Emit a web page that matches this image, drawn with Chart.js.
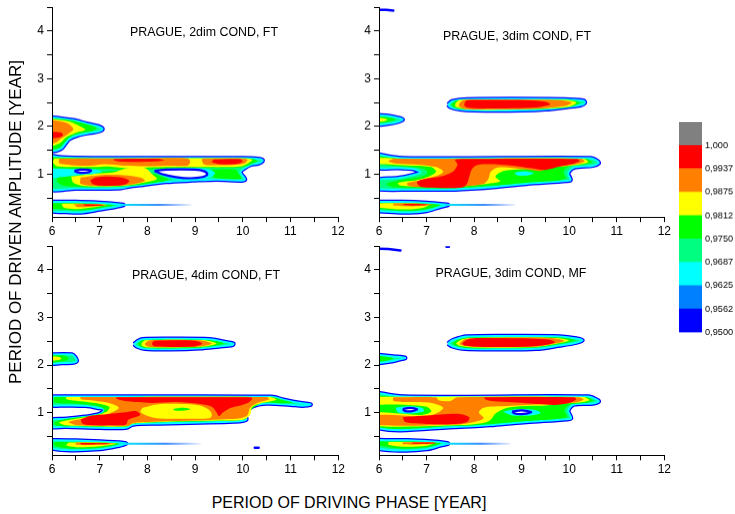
<!DOCTYPE html>
<html><head><meta charset="utf-8">
<script src="https://cdn.jsdelivr.net/npm/chart.js@4.4.1/dist/chart.umd.min.js"></script>
<style>
html,body{margin:0;padding:0;background:#fff;}
body{width:735px;height:514px;position:relative;overflow:hidden;font-family:"Liberation Sans",Arial,sans-serif;}
.box{position:absolute;}
.t{position:absolute;transform:translate(-50%,-50%);white-space:nowrap;color:#000;}
</style></head><body>
<div class="box" id="b0"><canvas id="c0"></canvas></div>
<div class="box" id="b1"><canvas id="c1"></canvas></div>
<div class="box" id="b2"><canvas id="c2"></canvas></div>
<div class="box" id="b3"><canvas id="c3"></canvas></div>
<div class="box" id="b4"><canvas id="c4"></canvas></div>
<div class="t" id="t0"></div><div class="t" id="t1"></div><div class="t" id="t2"></div><div class="t" id="t3"></div>
<div class="t" id="ytitle" style="font-size:17px;transform:translate(-50%,-50%) rotate(-90deg);">PERIOD OF DRIVEN AMPLITUDE [YEAR]</div>
<div class="t" id="xtitle" style="font-size:16px;">PERIOD OF DRIVING PHASE [YEAR]</div>
<script>
// ---------- axes ----------
const X_TICKS = [6,6.5,7,7.5,8,8.5,9,9.5,10,10.5,11,11.5,12];
const Y_TICKS = [0.5,1,1.5,2,2.5,3,3.5,4,4.5];
const TITLES = ['PRAGUE, 2dim COND, FT','PRAGUE, 3dim COND, FT','PRAGUE, 4dim COND, FT','PRAGUE, 3dim COND, MF'];

// ---------- colour scale ----------
const LEVELS = [0.95,0.95625,0.9625,0.96875,0.975,0.98125,0.9875,0.99375,1.0,1.00625];
const LEVEL_LABELS = ['0,9500','0,9562','0,9625','0,9687','0,9750','0,9812','0,9875','0,9937','1,000'];

// ---------- panel 1: 2dim FT ----------
const TL_OUTER = [
 [[5.9,2.2],[6.17,2.17],[6.45,2.13],[6.73,2.06],[6.95,2.01],[7.06,1.95],[6.98,1.9],[6.8,1.87],[6.55,1.82],[6.36,1.74],[6.27,1.63],[6.2,1.54],[6.1,1.5],[5.9,1.5]],
 [[5.9,1.4],[6.2,1.35],[7,1.335],[8,1.335],[9,1.335],[10,1.335],[10.33,1.32],[10.42,1.29],[10.33,1.23],[10.17,1.2],[10.03,1.12],[9.95,1.04],[10.02,0.94],[10.05,0.89],[9.98,0.87],[9.45,0.89],[8.96,0.87],[8.4,0.84],[7.91,0.78],[7.6,0.74],[7.45,0.71],[7,0.7],[6.5,0.7],[5.9,0.71]],
 [[5.9,0.42],[6.5,0.42],[7.0,0.4],[7.4,0.37],[7.5,0.355],[7.35,0.32],[7.0,0.26],[6.6,0.2],[6.3,0.21],[5.9,0.24]]
];
const TL_GREEN = [
 [[5.9,2.18],[6.4,2.13],[6.75,2.04],[6.93,1.97],[6.85,1.91],[6.6,1.86],[6.38,1.78],[6.25,1.65],[6.15,1.55],[5.9,1.53]],
 [[5.9,1.36],[7,1.33],[10,1.33],[10.22,1.32],[10.3,1.28],[10.2,1.22],[10.02,1.15],[9.6,1.13],[9.2,1.13],[8.6,1.13],[8.0,1.1],[7.6,1.08],[7.2,1.11],[6.9,1.11],[6.45,1.11],[6.2,1.12],[5.9,1.13]],
 [[6.15,0.99],[6.5,0.97],[6.9,1.03],[7.3,1.07],[7.7,1.06],[8.1,1.02],[8.3,0.95],[8.45,0.88],[8.0,0.8],[7.6,0.75],[7.1,0.73],[6.6,0.73],[6.25,0.76],[6.1,0.85]],
 [[9.35,1.1],[9.85,1.1],[9.92,1.0],[9.97,0.91],[9.7,0.9],[9.4,0.93]],
 [[5.9,0.39],[6.6,0.39],[7.1,0.37],[7.3,0.35],[7.0,0.29],[6.6,0.24],[6.2,0.26],[5.9,0.3]]
];
const TL_YELLOW = [
 [[5.9,2.17],[6.35,2.11],[6.6,2.0],[6.7,1.93],[6.5,1.87],[6.3,1.78],[6.15,1.64],[5.9,1.6]],
 [[6.05,1.33],[7,1.33],[10.05,1.33],[10.2,1.3],[10.12,1.23],[9.98,1.17],[9.6,1.15],[9.2,1.15],[8.5,1.15],[8.0,1.14],[7.6,1.12],[7.2,1.16],[6.9,1.15],[6.5,1.15],[6.1,1.17],[6.02,1.25]],
 [[6.4,0.95],[6.8,1.0],[7.3,1.04],[7.55,1.12],[7.95,1.13],[8.1,1.0],[8.2,0.9],[7.9,0.82],[7.6,0.77],[7.1,0.745],[6.7,0.75],[6.45,0.82]],
 [[6.2,0.38],[6.7,0.38],[7.15,0.36],[6.9,0.31],[6.5,0.27],[6.25,0.3]]
];
const TL_ORANGE = [
 [[5.9,2.15],[6.3,2.08],[6.45,1.95],[6.35,1.85],[6.2,1.75],[6.08,1.66],[5.9,1.65]],
 [[6.15,1.325],[7,1.33],[8,1.33],[8.85,1.33],[8.9,1.26],[8.85,1.18],[8.5,1.18],[8.0,1.17],[7.5,1.18],[7.1,1.21],[6.8,1.18],[6.4,1.19],[6.15,1.23]],
 [[9.15,1.33],[9.9,1.33],[10.1,1.31],[10.05,1.23],[9.9,1.2],[9.4,1.19],[9.2,1.2],[9.15,1.27]],
 [[6.6,0.93],[7.0,0.98],[7.5,0.98],[7.85,0.93],[7.95,0.86],[7.7,0.79],[7.3,0.755],[6.9,0.755],[6.6,0.8]],
 [[6.45,0.37],[6.8,0.375],[7.15,0.355],[6.9,0.325],[6.55,0.31]]
];
const TL_RED = [
 [[5.9,1.89],[6.2,1.87],[6.23,1.81],[6.1,1.76],[5.9,1.76]],
 [[7.3,1.32],[8.25,1.32],[8.35,1.29],[8.0,1.26],[7.5,1.26],[7.3,1.29]],
 [[9.4,1.31],[9.95,1.315],[10.0,1.26],[9.85,1.21],[9.5,1.21],[9.35,1.26]],
 [[6.8,0.87],[6.92,0.93],[7.2,0.95],[7.5,0.92],[7.62,0.86],[7.55,0.79],[7.35,0.76],[7.0,0.76],[6.85,0.8]],
 [[6.65,0.37],[6.95,0.365],[7.1,0.35],[6.9,0.335],[6.7,0.34]]
];
const TL_DEPCYAN = [
 [[5.9,1.12],[6.35,1.11],[6.9,1.1],[7.05,1.05],[6.9,1.01],[6.5,0.98],[6.2,0.94],[5.9,0.92]],
 [[8.15,1.1],[8.5,1.12],[9.2,1.12],[9.42,1.03],[9.3,0.92],[8.9,0.88],[8.55,0.9],[8.3,0.98],[8.15,1.05]]
];
const TL_HOLES = [
 [[6.47,1.07],[6.6,1.095],[6.82,1.08],[6.75,1.035],[6.55,1.035]],
 [[8.15,1.07],[8.4,1.095],[9.0,1.095],[9.2,1.06],[9.26,1.0],[9.16,0.94],[8.9,0.915],[8.6,0.94],[8.32,1.0]]
];
const TL_TAILS = [[[7.45,0.355],[8.9,0.355]]];

// ---------- panel 2: 3dim FT ----------
const TR_OUTER = [
 [[7.45,2.46],[7.55,2.53],[7.85,2.57],[9.9,2.57],[10.3,2.54],[10.33,2.5],[10.25,2.45],[9.95,2.41],[9.5,2.36],[9,2.34],[8,2.34],[7.7,2.36],[7.5,2.41]],
 [[5.9,2.24],[6.2,2.22],[6.4,2.18],[6.5,2.145],[6.4,2.1],[6.2,2.06],[5.9,2.05]],
 [[5.9,1.43],[6.5,1.335],[10.45,1.335],[10.6,1.27],[10.62,1.23],[10.5,1.18],[10.1,1.14],[9.98,1.02],[10.03,0.88],[9.95,0.86],[9.1,0.8],[8.4,0.73],[7.6,0.68],[6.7,0.68],[5.9,0.7],[5.9,0.87],[6.4,0.92],[6.7,0.98],[6.87,1.04],[6.72,1.11],[6.4,1.13],[5.9,1.15]],
 [[5.9,0.42],[6.5,0.42],[7.0,0.4],[7.35,0.37],[7.45,0.355],[7.3,0.32],[7.0,0.23],[6.65,0.2],[6.3,0.21],[5.9,0.25]]
];
const TR_GREEN = [
 [[7.52,2.47],[7.65,2.55],[9.95,2.56],[10.22,2.5],[10.05,2.42],[9.5,2.37],[7.8,2.36],[7.55,2.41]],
 [[5.9,2.21],[6.2,2.19],[6.35,2.15],[6.2,2.1],[5.9,2.08]],
 [[5.9,1.39],[6.5,1.325],[10.35,1.325],[10.48,1.25],[10.32,1.2],[10.0,1.16],[9.88,1.05],[9.92,0.9],[9.2,0.83],[8.4,0.76],[7.6,0.71],[6.7,0.71],[6.3,0.73],[6.15,0.8],[6.45,0.88],[6.8,0.93],[7.0,1.0],[7.0,1.08],[6.8,1.14],[6.4,1.17],[6.1,1.2],[5.9,1.25]],
 [[5.9,0.4],[6.5,0.4],[7.0,0.385],[7.3,0.355],[7.0,0.27],[6.6,0.23],[6.2,0.25],[5.9,0.3]]
];
const TR_YELLOW = [
 [[7.6,2.48],[7.7,2.555],[9.9,2.555],[10.15,2.5],[10.0,2.42],[9.5,2.38],[8.0,2.35],[7.62,2.41]],
 [[5.9,2.19],[6.12,2.17],[6.18,2.14],[6.1,2.11],[5.9,2.11]],
 [[5.9,1.35],[6.5,1.325],[10.3,1.325],[10.4,1.25],[10.2,1.2],[9.9,1.17],[9.6,1.15],[9.3,1.12],[8.9,1.1],[8.6,1.06],[8.45,0.95],[8.55,0.85],[8.2,0.79],[7.6,0.74],[6.8,0.74],[6.45,0.76],[6.4,0.82],[6.8,0.88],[7.05,0.95],[7.2,1.05],[7.1,1.15],[6.7,1.18],[6.3,1.2],[5.9,1.23]],
 [[5.9,0.39],[6.5,0.39],[7.05,0.37],[6.95,0.3],[6.6,0.26],[6.2,0.28],[5.9,0.32]]
];
const TR_ORANGE = [
 [[7.7,2.5],[7.8,2.56],[9,2.56],[9.8,2.55],[10.05,2.5],[9.9,2.43],[9.4,2.38],[8.5,2.36],[7.8,2.37],[7.68,2.43]],
 [[6.3,1.325],[7.5,1.325],[10.25,1.325],[10.32,1.27],[10.15,1.21],[9.9,1.18],[9.6,1.13],[9.4,1.07],[9.2,1.09],[8.8,1.13],[8.5,1.14],[8.35,1.05],[8.3,0.9],[8.2,0.8],[7.9,0.755],[7.5,0.73],[6.8,0.73],[6.6,0.77],[6.6,0.82],[6.9,0.88],[7.2,0.96],[7.35,1.05],[7.2,1.15],[6.8,1.2],[6.4,1.22],[6.2,1.27]],
 [[6.3,0.385],[6.8,0.385],[7.15,0.36],[6.85,0.33],[6.5,0.33],[6.3,0.35]]
];
const TR_RED = [
 [[7.8,2.5],[7.85,2.55],[8.2,2.555],[9.0,2.555],[9.5,2.52],[9.6,2.46],[9.3,2.4],[8.5,2.38],[7.9,2.39],[7.8,2.43]],
 [[7.72,1.32],[10.15,1.32],[10.22,1.28],[10.05,1.21],[9.8,1.16],[9.5,1.09],[9.25,1.12],[8.9,1.17],[8.55,1.2],[8.3,1.21],[8.05,1.19],[7.95,1.1],[7.9,0.95],[7.85,0.8],[7.75,0.72],[7.0,0.72],[6.85,0.75],[6.8,0.84],[6.95,0.9],[7.3,0.95],[7.55,1.05],[7.65,1.2],[7.6,1.3]],
 [[6.5,0.38],[6.9,0.375],[7.05,0.36],[6.85,0.345],[6.55,0.35]]
];
const TR_DEPCYAN = [[[8.85,1.03],[9.05,1.06],[9.25,1.02],[9.1,0.97],[8.9,0.98]]];
const TR_TAILS = [[[7.4,0.355],[8.85,0.355]]];
const TR_TRACES = [[[5.9,4.45],[6.15,4.445],[6.3,4.43]]];

// ---------- panel 3: 4dim FT ----------
const BL_OUTER = [
 [[7.72,2.44],[7.8,2.5],[7.9,2.54],[8.5,2.55],[9.3,2.54],[9.6,2.49],[9.8,2.45],[9.78,2.42],[9.5,2.39],[9.1,2.35],[8.5,2.33],[7.95,2.34],[7.78,2.39]],
 [[5.9,2.22],[6.42,2.22],[6.48,2.17],[6.52,2.09],[6.45,2.05],[6.2,2.04],[5.9,2.04]],
 [[5.9,1.335],[7,1.335],[10.6,1.33],[10.85,1.27],[11.2,1.2],[11.42,1.17],[11.25,1.145],[11.0,1.165],[10.5,1.19],[10.2,1.13],[10.05,0.98],[10.07,0.85],[9.8,0.81],[9.1,0.79],[8.26,0.77],[7.7,0.75],[7.55,0.68],[7.0,0.68],[6.3,0.7],[5.9,0.7],[5.9,0.84],[6.3,0.87],[6.7,0.91],[7.0,0.97],[7.1,1.06],[6.95,1.1],[6.7,1.14],[6.3,1.15],[5.9,1.16]],
 [[5.9,0.42],[6.5,0.41],[7.0,0.39],[7.5,0.36],[7.55,0.345],[7.4,0.3],[7.0,0.23],[6.3,0.21],[5.9,0.28]]
];
const BL_GREEN = [
 [[7.8,2.45],[7.9,2.52],[8.5,2.535],[9.3,2.52],[9.6,2.46],[9.4,2.4],[9.0,2.36],[8.0,2.355],[7.83,2.4]],
 [[5.9,2.2],[6.25,2.2],[6.35,2.14],[6.25,2.08],[5.9,2.07]],
 [[6.05,1.325],[10.6,1.325],[10.85,1.26],[11.05,1.21],[10.85,1.19],[10.45,1.21],[10.25,1.12],[10.1,0.97],[10.05,0.86],[9.5,0.82],[8.5,0.8],[7.7,0.765],[7.55,0.7],[6.5,0.71],[6.1,0.72],[6.05,0.8],[6.4,0.88],[6.8,0.93],[7.05,0.99],[7.1,1.07],[6.9,1.15],[6.4,1.19],[6.05,1.21]],
 [[6.05,0.38],[6.5,0.38],[7.1,0.37],[7.4,0.345],[7.0,0.26],[6.4,0.24],[6.05,0.3]]
];
const BL_YELLOW = [
 [[7.88,2.46],[7.95,2.52],[9.2,2.52],[9.45,2.45],[9.2,2.39],[8.0,2.37],[7.88,2.41]],
 [[5.9,2.18],[6.15,2.17],[6.2,2.13],[6.1,2.1],[5.9,2.1]],
 [[6.3,1.325],[10.55,1.325],[10.7,1.27],[10.4,1.2],[10.2,1.12],[10.15,0.95],[10.0,0.85],[9.5,0.83],[8.5,0.81],[7.7,0.77],[7.55,0.71],[6.8,0.71],[6.3,0.73],[6.15,0.79],[6.5,0.87],[6.9,0.93],[7.15,1.02],[7.2,1.12],[6.9,1.2],[6.5,1.25],[6.3,1.28]],
 [[6.35,0.37],[7.1,0.365],[7.35,0.345],[7.0,0.29],[6.5,0.27],[6.3,0.31]]
];
const BL_ORANGE = [
 [[7.95,2.46],[8.05,2.52],[9.1,2.52],[9.35,2.45],[9.1,2.39],[8.05,2.38],[7.95,2.42]],
 [[6.6,1.325],[10.5,1.325],[10.55,1.28],[10.3,1.2],[10.15,1.1],[10.1,0.95],[9.95,0.88],[9.6,0.86],[9.2,0.84],[8.5,0.82],[8.0,0.8],[7.7,0.78],[7.6,0.72],[7.0,0.72],[6.5,0.74],[6.35,0.8],[6.7,0.88],[7.2,0.98],[7.4,1.1],[7.2,1.2],[6.9,1.25],[6.6,1.28]],
 [[6.5,0.37],[7.15,0.36],[7.3,0.345],[7.0,0.32],[6.5,0.32]]
];
const BL_RED = [
 [[8.1,2.47],[8.15,2.51],[9.0,2.51],[9.15,2.45],[9.0,2.39],[8.15,2.39],[8.1,2.43]],
 [[7.35,1.32],[10.15,1.32],[10.2,1.29],[10.1,1.2],[9.95,1.15],[9.75,1.1],[9.58,1.0],[9.5,0.92],[9.45,1.0],[9.35,1.12],[9.1,1.18],[8.6,1.22],[8.1,1.2],[7.8,1.22],[7.5,1.25],[7.35,1.29]],
 [[6.6,0.85],[6.8,0.93],[7.2,0.97],[7.5,1.0],[7.75,1.03],[7.85,0.95],[7.6,0.85],[7.55,0.75],[7.3,0.73],[6.9,0.73],[6.65,0.76]],
 [[6.6,0.36],[7.15,0.355],[7.2,0.345],[7.0,0.33],[6.6,0.335]]
];
const BL_DEPYELLOW = [[[7.9,1.1],[8.2,1.17],[8.7,1.18],[9.1,1.15],[9.3,1.05],[9.35,0.95],[9.3,0.88],[8.8,0.87],[8.2,0.88],[7.95,0.95],[7.85,1.02]]];
const BL_DEPGREEN = [[[8.55,1.08],[8.75,1.1],[8.9,1.07],[8.75,1.04],[8.55,1.05]]];
const BL_TAILS = [[[7.5,0.345],[9.1,0.345]]];
const BL_TRACES = [[[10.25,0.26],[10.33,0.26]]];

// ---------- panel 4: 3dim MF ----------
const BR_OUTER = [
 [[7.45,2.45],[7.55,2.52],[7.85,2.6],[9.0,2.61],[9.8,2.6],[10.15,2.56],[10.28,2.52],[10.15,2.47],[9.8,2.41],[9.3,2.34],[8.5,2.33],[7.8,2.34],[7.55,2.39]],
 [[5.9,2.22],[6.3,2.18],[6.55,2.15],[6.4,2.11],[6.2,2.07],[5.9,2.05]],
 [[5.9,1.43],[6.5,1.335],[10.4,1.335],[10.6,1.26],[10.62,1.23],[10.5,1.19],[10.1,1.17],[9.98,1.04],[10.04,0.88],[9.95,0.86],[9.1,0.8],[8.4,0.74],[7.7,0.7],[5.9,0.7]],
 [[5.9,0.42],[6.6,0.415],[7.1,0.39],[7.4,0.36],[7.45,0.345],[7.3,0.31],[7.0,0.23],[6.5,0.2],[5.9,0.26]]
];
const BR_GREEN = [
 [[7.55,2.46],[7.65,2.53],[7.9,2.58],[9.8,2.58],[10.12,2.52],[9.8,2.44],[9.3,2.37],[8.5,2.35],[7.8,2.36],[7.6,2.41]],
 [[5.9,2.2],[6.2,2.17],[6.3,2.13],[6.15,2.09],[5.9,2.08]],
 [[5.9,1.36],[6.5,1.325],[10.35,1.325],[10.5,1.25],[10.3,1.2],[10.0,1.16],[9.9,1.04],[9.95,0.9],[9.1,0.82],[8.4,0.76],[7.7,0.72],[5.9,0.72]],
 [[5.9,0.39],[6.6,0.39],[7.1,0.375],[7.3,0.35],[7.0,0.27],[6.5,0.24],[6.05,0.3]]
];
const BR_YELLOW = [
 [[7.62,2.46],[7.75,2.54],[8.0,2.57],[9.7,2.57],[10.0,2.52],[9.75,2.45],[9.3,2.38],[8.0,2.37],[7.68,2.41]],
 [[5.9,1.33],[10.3,1.325],[10.42,1.26],[10.2,1.21],[9.9,1.19],[9.5,1.15],[9.1,1.14],[8.7,1.1],[8.45,0.98],[8.35,0.85],[8.2,0.78],[7.7,0.735],[5.9,0.73],[5.9,0.98],[6.4,0.98],[6.9,0.95],[7.1,1.02],[7.0,1.12],[6.6,1.16],[6.2,1.17],[5.9,1.18]],
 [[6.2,0.38],[6.7,0.38],[7.15,0.365],[7.0,0.3],[6.5,0.28],[6.2,0.32]]
];
const BR_ORANGE = [
 [[7.7,2.46],[7.8,2.54],[8.1,2.57],[9.6,2.57],[9.9,2.51],[9.7,2.45],[9.3,2.39],[8.0,2.38],[7.72,2.42]],
 [[6.3,1.32],[7.2,1.32],[7.25,1.26],[7.5,1.24],[7.65,1.32],[10.2,1.32],[10.3,1.27],[10.1,1.21],[9.8,1.2],[9.3,1.17],[8.9,1.15],[8.5,1.13],[8.2,1.1],[8.1,1.0],[8.2,0.88],[8.0,0.8],[7.7,0.75],[5.9,0.745],[5.9,0.93],[6.5,0.94],[6.9,0.91],[7.2,0.98],[7.35,1.1],[7.1,1.2],[6.6,1.22],[6.3,1.25]],
 [[6.5,0.375],[7.0,0.375],[7.2,0.36],[6.95,0.33],[6.5,0.33]]
];
const BR_RED = [
 [[7.75,2.46],[7.9,2.55],[8.2,2.57],[9.2,2.56],[9.6,2.53],[9.7,2.48],[9.55,2.43],[9.2,2.39],[8.2,2.38],[7.8,2.41]],
 [[8.2,1.32],[10.1,1.32],[10.15,1.28],[10.0,1.2],[9.7,1.16],[9.3,1.18],[8.9,1.21],[8.5,1.23],[8.25,1.27]],
 [[6.5,0.9],[6.9,0.93],[7.3,0.96],[7.7,0.97],[7.9,0.9],[7.85,0.8],[7.6,0.76],[7.0,0.76],[6.55,0.8]],
 [[6.7,0.37],[7.1,0.37],[7.2,0.355],[7.0,0.345],[6.7,0.35]]
];
const BR_DEPCYAN = [
 [[6.35,1.1],[6.6,1.13],[6.9,1.1],[6.95,1.03],[6.7,0.98],[6.4,1.0]],
 [[8.6,1.02],[8.9,1.07],[9.3,1.05],[9.4,0.99],[9.2,0.94],[8.8,0.94]]
];
const BR_HOLES = [
 [[6.5,1.07],[6.65,1.1],[6.8,1.07],[6.7,1.03],[6.55,1.03]],
 [[8.8,1.02],[9.0,1.045],[9.2,1.01],[9.05,0.97],[8.85,0.98]]
];
const BR_TAILS = [[[7.4,0.345],[8.75,0.345]]];
const BR_TRACES = [[[5.9,4.45],[6.2,4.44],[6.45,4.41]],[[7.42,4.49],[7.47,4.49]]];

// ---------- styling ----------
const C = {blue:'#0000ff', azure:'#0080ff', cyan:'#00ffff', spring:'#00ff80', green:'#00ff00',
           yellow:'#ffff00', orange:'#ff8000', red:'#ff0000', gray:'#808080'};
const FONT = "'Liberation Sans', Arial, sans-serif";

const PANELS = [
 {area:[52,7.3,338,216.5], tpos:[204,32], d:{outer:TL_OUTER, green:TL_GREEN, yellow:TL_YELLOW, orange:TL_ORANGE, red:TL_RED, depCyan:TL_DEPCYAN, holes:TL_HOLES, tails:TL_TAILS}},
 {area:[378.7,7.3,664,216.5], tpos:[517,35.5], d:{outer:TR_OUTER, green:TR_GREEN, yellow:TR_YELLOW, orange:TR_ORANGE, red:TR_RED, depCyan:TR_DEPCYAN, tails:TR_TAILS, traces:TR_TRACES}},
 {area:[52,245.5,338.3,454.8], tpos:[206,275], d:{outer:BL_OUTER, green:BL_GREEN, yellow:BL_YELLOW, orange:BL_ORANGE, red:BL_RED, depYellow:BL_DEPYELLOW, depGreen:BL_DEPGREEN, tails:BL_TAILS, traces:BL_TRACES}},
 {area:[378.7,245.5,664,454.8], tpos:[511,272.7], d:{outer:BR_OUTER, green:BR_GREEN, yellow:BR_YELLOW, orange:BR_ORANGE, red:BR_RED, depCyan:BR_DEPCYAN, holes:BR_HOLES, tails:BR_TAILS, traces:BR_TRACES}}
];

const BASE = {pointRadius:0, pointHoverRadius:0, tension:0.3, clip:0, borderJoinStyle:'round'};
function closed(p){ const a = p.map(q=>({x:q[0], y:q[1]})); a.push({x:p[0][0], y:p[0][1]}); return a; }
function area(p, color, stroke, sw){
  return Object.assign({}, BASE, {data:closed(p), fill:'shape', backgroundColor:color,
    borderColor: stroke || 'rgba(0,0,0,0)', borderWidth: sw || 0});
}
function edge(p){ return Object.assign({}, BASE, {data:closed(p), fill:false, borderColor:C.blue, borderWidth:4.5}); }
function tail(p){
  return Object.assign({}, BASE, {tension:0, data:p.map(q=>({x:q[0], y:q[1]})), fill:false, borderWidth:2, borderCapStyle:'round',
    borderColor: (ctx) => {
      const ch = ctx.chart; if (!ch.chartArea || !ch.scales.x) return C.cyan;
      const x0 = ch.scales.x.getPixelForValue(p[0][0]), x1 = ch.scales.x.getPixelForValue(p[p.length-1][0]);
      const g = ch.ctx.createLinearGradient(x0, 0, x1, 0);
      g.addColorStop(0, '#00e8ff'); g.addColorStop(0.55, '#3a8cff'); g.addColorStop(1, 'rgba(60,120,255,0.12)');
      return g;
    }});
}
function trace(p){ return Object.assign({}, BASE, {tension:0, data:p.map(q=>({x:q[0], y:q[1]})), fill:false, borderColor:C.blue, borderWidth:2.5, borderCapStyle:'round'}); }

function buildDatasets(d){
  const ds = [];
  (d.outer||[]).forEach(p => ds.push(edge(p)));
  (d.outer||[]).forEach(p => ds.push(area(p, C.spring, C.cyan, 2)));
  [[d.green,C.green],[d.yellow,C.yellow],[d.orange,C.orange],[d.red,C.red],
   [d.depYellow,C.yellow],[d.depGreen,C.green],[d.depCyan,C.cyan]].forEach(([list,c]) =>
     (list||[]).forEach(p => ds.push(area(p, c))));
  (d.holes||[]).forEach(p => ds.push(area(p, '#ffffff', C.blue, 2.2)));
  (d.tails||[]).forEach(p => ds.push(tail(p)));
  (d.traces||[]).forEach(p => ds.push(trace(p)));
  ds.forEach((x,i) => { x.order = ds.length - i; });
  return ds;
}

const YW = 40, XH = 24, PT = 10, PR = 14;
PANELS.forEach((P, k) => {
  const [L,T,R,B] = P.area;
  const box = document.getElementById('b'+k);
  box.style.left = (L-YW)+'px'; box.style.top = (T-PT)+'px';
  box.style.width = (R-L+YW+PR)+'px'; box.style.height = (B-T+PT+XH)+'px';
  const t = document.getElementById('t'+k);
  t.textContent = TITLES[k]; t.style.left = P.tpos[0]+'px'; t.style.top = P.tpos[1]+'px'; t.style.fontSize = '12.4px';
  new Chart(document.getElementById('c'+k), {
    type:'line',
    data:{datasets: buildDatasets(P.d)},
    options:{
      animation:false, responsive:true, maintainAspectRatio:false, devicePixelRatio:1, events:[],
      layout:{padding:{top:PT, right:PR, left:0, bottom:0}},
      plugins:{legend:{display:false}, tooltip:{enabled:false}},
      scales:{
        x:{type:'linear', min:6, max:12,
           afterBuildTicks: s => { s.ticks = X_TICKS.map(v => ({value:v})); },
           afterFit: s => { s.height = XH; },
           ticks:{callback: v => Number.isInteger(v) ? String(v) : '', autoSkip:false, maxRotation:0, padding:2,
                  color:'#000', font:{family:FONT, size:12}},
           grid:{drawOnChartArea:false, drawTicks:true, tickLength:5, tickColor:'#000', tickWidth:1},
           border:{display:true, color:'#000', width:1, z:1}},
        y:{type:'linear', min:0.1, max:4.5,
           afterBuildTicks: s => { s.ticks = Y_TICKS.map(v => ({value:v})); },
           afterFit: s => { s.width = YW; },
           ticks:{callback: v => Number.isInteger(v) ? String(v) : '', autoSkip:false, padding:3,
                  color:'#000', font:{family:FONT, size:12}},
           grid:{drawOnChartArea:false, drawTicks:true, tickLength:5, tickColor:'#000', tickWidth:1},
           border:{display:true, color:'#000', width:1, z:1}}
      }
    }
  });
});

// ---------- colour bar ----------
(function(){
  const L = 679, T = 122.3, W = 23, H = 209.4, AW = 33;
  const box = document.getElementById('b4');
  box.style.left = L+'px'; box.style.top = (T-10)+'px'; box.style.width = (W+AW)+'px'; box.style.height = (H+20)+'px';
  const cols = [C.blue, C.azure, C.cyan, C.spring, C.green, C.yellow, C.orange, C.red, C.gray];
  new Chart(document.getElementById('c4'), {
    type:'bar',
    data:{labels:[''], datasets: cols.map((c,i) => ({data:[[LEVELS[i], LEVELS[i+1]]], backgroundColor:c, borderWidth:0,
          barPercentage:1, categoryPercentage:1, grouped:false}))},
    options:{
      animation:false, responsive:true, maintainAspectRatio:false, devicePixelRatio:1, events:[],
      layout:{padding:{top:10, bottom:10, left:0, right:0}},
      plugins:{legend:{display:false}, tooltip:{enabled:false}},
      scales:{
        x:{display:false},
        y:{position:'right', min:LEVELS[0], max:LEVELS[LEVELS.length-1],
           afterBuildTicks: s => { s.ticks = LEVELS.slice(0,9).map(v => ({value:v})); },
           afterFit: s => { s.width = AW; },
           ticks:{callback: (v,i) => LEVEL_LABELS[i], autoSkip:false, padding:3, color:'#000', font:{family:FONT, size:9.2}},
           grid:{display:false, drawTicks:false}, border:{display:false}}
      }
    }
  });
})();

document.getElementById('ytitle').style.left = '16px';
document.getElementById('ytitle').style.top = '222px';
document.getElementById('xtitle').style.left = '349px';
document.getElementById('xtitle').style.top = '503px';
</script>
</body></html>
